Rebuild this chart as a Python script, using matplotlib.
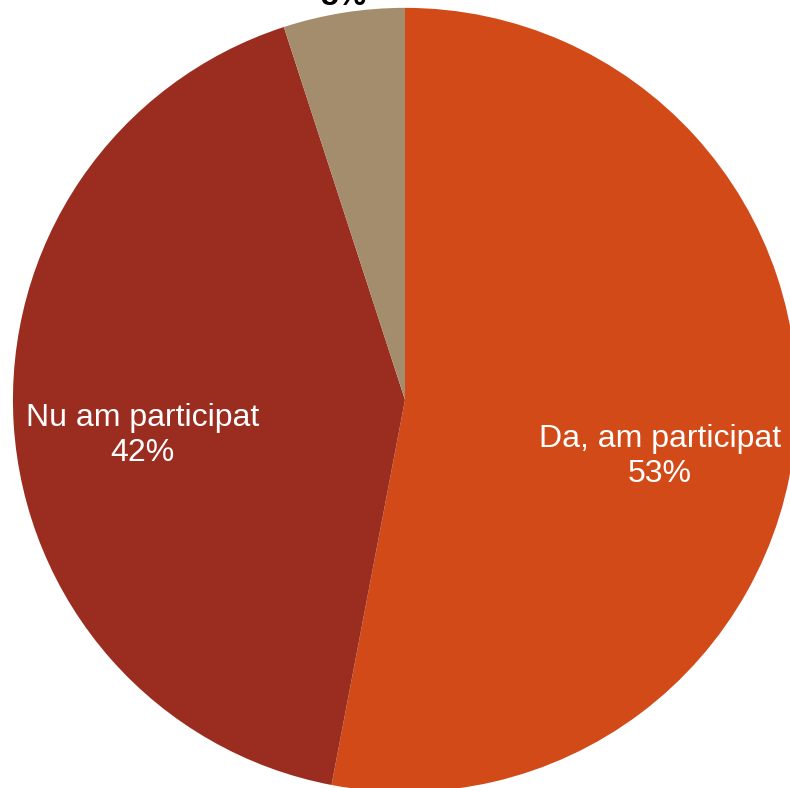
import matplotlib.pyplot as plt

labels = ["Da, am participat", "Nu am participat", ""]
shares = [53, 42, 5]
colors = ["#D24A18", "#9A2D20", "#A38D6C"]

plt.rcParams['font.family'] = ['Liberation Sans', 'DejaVu Sans']

fig = plt.figure(figsize=(7.9, 7.88), dpi=100)
ax = fig.add_axes([0, 0, 1, 1])

wedges, _ = ax.pie(shares, colors=colors, startangle=90, counterclock=False,
                   radius=1, wedgeprops=dict(linewidth=0))

# labels sit inside the two big slices, the small one gets its share above the pie
ax.text(0.651, -0.145, f"{labels[0]}\n{shares[0]}%", ha="center", va="center",
        color="white", fontsize=23, linespacing=1.22)
ax.text(-0.67, -0.09, f"{labels[1]}\n{shares[1]}%", ha="center", va="center",
        color="white", fontsize=23, linespacing=1.22)
ax.text(-0.158, 1.008, f"{shares[2]}%", ha="center", va="baseline",
        color="black", fontsize=23, fontweight="bold")

ax.set_xlim(-1.033, 0.982)
ax.set_ylim(-0.990, 1.020)
ax.set_aspect("auto")
ax.axis("off")

fig.savefig("out.png", dpi=100)
